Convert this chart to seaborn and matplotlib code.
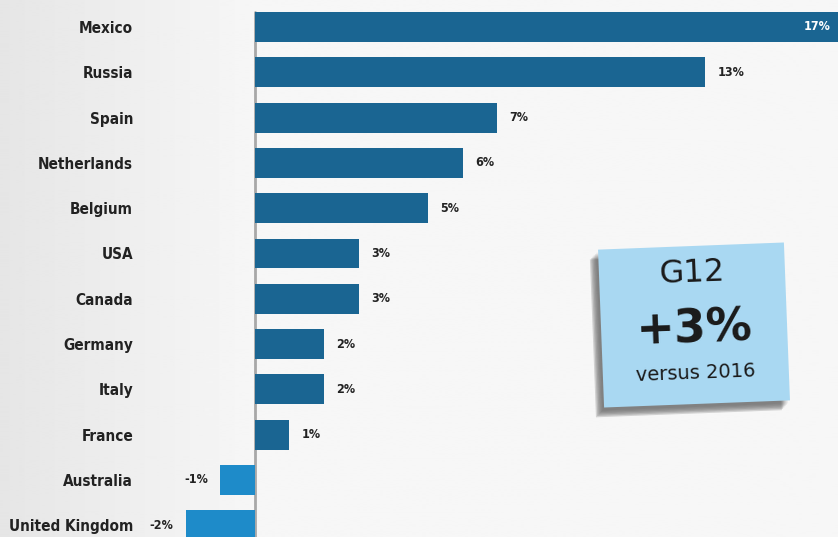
import numpy as np
import pandas as pd
import matplotlib.pyplot as plt
import matplotlib.patches as mpatches
import matplotlib.transforms as mtransforms
from matplotlib import font_manager
import seaborn as sns

countries = ['Mexico', 'Russia', 'Spain', 'Netherlands', 'Belgium', 'USA',
             'Canada', 'Germany', 'Italy', 'France', 'Australia', 'United Kingdom']
growth = [17, 13, 7, 6, 5, 3, 3, 2, 2, 1, -1, -2]

df = pd.DataFrame({'country': countries, 'growth': growth})
df['sign'] = np.where(df['growth'] >= 0, 'pos', 'neg')

sns.set_style('white')
plt.rcParams['font.family'] = ['DejaVu Sans']

# look for a condensed bold face, the original uses a narrow typeface
narrow = [f for f in font_manager.fontManager.ttflist
          if f.stretch in ('condensed', 'semi-condensed', 'extra-condensed')
          and f.weight in ('bold', 700, 'semibold', 600)]
if narrow:
    lab_fp = font_manager.FontProperties(fname=narrow[0].fname, size=11)
    val_fp = font_manager.FontProperties(fname=narrow[0].fname, size=9)
else:
    lab_fp = font_manager.FontProperties(family='DejaVu Sans', weight='bold', size=10)
    val_fp = font_manager.FontProperties(family='DejaVu Sans', weight='bold', size=8)

fig = plt.figure(figsize=(8.38, 5.37), dpi=100)

# light grey background, a little darker towards the left edge
bg = fig.add_axes([0, 0, 1, 1], zorder=-5)
grad = np.concatenate([np.linspace(0.90, 0.965, 250), np.full(588, 0.965)])
bg.imshow(np.tile(grad, (10, 1)), cmap='gray', vmin=0, vmax=1, aspect='auto')
bg.axis('off')

ax = fig.add_axes([140 / 838, 0, 1 - 140 / 838, 1])
ax.set_facecolor('none')
sns.barplot(data=df, x='growth', y='country', hue='sign', orient='h',
            palette={'pos': '#1a6592', 'neg': '#1e8bc9'}, width=0.66,
            legend=False, dodge=False, saturation=1, linewidth=0, ax=ax)

ax.set_xlim(-3.32, 16.85)
ax.set_ylim(11.26, -0.596)
ax.axvline(0, ymax=0.977, color='#a8a8a8', lw=2, zorder=0)

for i, v in enumerate(growth):
    lbl = f'{v}%'
    if v > ax.get_xlim()[1]:
        ax.annotate(lbl, (ax.get_xlim()[1], i), xytext=(-5, 0), textcoords='offset points',
                    ha='right', va='center', color='white', fontproperties=val_fp)
    elif v >= 0:
        ax.annotate(lbl, (v, i), xytext=(9, 0), textcoords='offset points',
                    ha='left', va='center', color='#222222', fontproperties=val_fp)
    else:
        ax.annotate(lbl, (v, i), xytext=(-9, 0), textcoords='offset points',
                    ha='right', va='center', color='#222222', fontproperties=val_fp)

ax.set_xlabel('')
ax.set_ylabel('')
ax.set_xticks([])
ax.tick_params(axis='y', length=0, pad=5)
ax.set_yticks(range(len(countries)))
ax.set_yticklabels(countries, color='#222222', fontproperties=lab_fp)
sns.despine(ax=ax, left=True, bottom=True)

# sticky note with the G12 total
cx, cy, w, h, ang = 694, 537 - 325, 186, 158, 2.2
rot = mtransforms.Affine2D().rotate_deg_around(cx, cy, ang)
for k, a in enumerate([0.05, 0.07, 0.09, 0.11, 0.13, 0.15]):
    d = 2 + k * 1.3
    fig.patches.append(mpatches.Rectangle((cx - w / 2 - d, cy - h / 2 - d - 1), w, h,
                                          transform=rot, facecolor='black', alpha=a,
                                          edgecolor='none', zorder=4))
fig.patches.append(mpatches.Rectangle((cx - w / 2, cy - h / 2), w, h, transform=rot,
                                      facecolor='#a9d8f2', edgecolor='none', zorder=5))
for txt, dy, size, weight in [('G12', 52, 23, 'normal'), ('+3%', -5, 33, 'bold'),
                              ('versus 2016', -48, 14, 'normal')]:
    x, y = rot.transform((cx, cy + dy))
    fig.text(x / 838, y / 537, txt, transform=fig.transFigure, ha='center', va='center',
             fontsize=size, fontweight=weight, rotation=ang, family='DejaVu Sans',
             color='#1a1a1a', zorder=6)

fig.savefig('out.png', dpi=100)
